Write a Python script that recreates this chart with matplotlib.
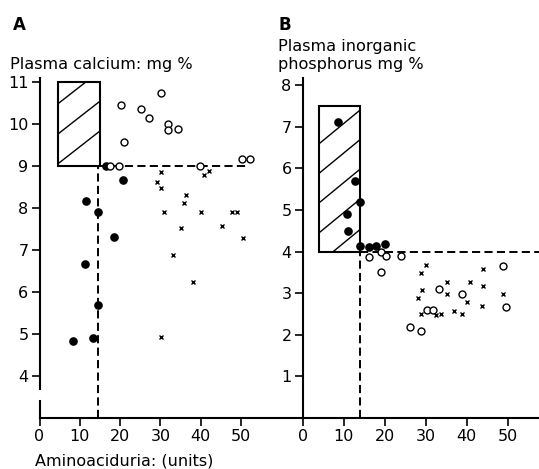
import matplotlib
matplotlib.use("Agg")
import matplotlib.pyplot as plt
from matplotlib.patches import Rectangle

# Panel A : plasma calcium (mg %) against aminoaciduria (units)
CaFilledX = [8.4, 11.3, 11.5, 13.2, 14.4, 14.6, 16.5, 18.5, 20.6]
CaFilledY = [4.83, 6.68, 8.16, 4.90, 5.69, 7.90, 9.00, 7.32, 8.67]
CaOpenX = [17.5, 19.7, 20.1, 21.0, 25.2, 27.2, 30.1, 32.0, 32.0, 34.4, 39.8, 50.2, 52.2]
CaOpenY = [9.00, 9.00, 10.46, 9.58, 10.37, 10.14, 10.75, 10.00, 9.86, 9.88, 9.00, 9.18, 9.18]
CaCrossX = [29.1, 30.1, 30.1, 30.1, 31.0, 33.1, 35.1, 35.9, 36.3, 38.0, 40.1, 40.8, 42.1,
            45.2, 47.8, 48.9, 50.6]
CaCrossY = [8.63, 8.86, 8.49, 4.94, 7.91, 6.89, 7.52, 8.12, 8.31, 6.23, 7.91, 8.79, 8.88,
            7.58, 7.90, 7.90, 7.30]

# Panel B : plasma inorganic phosphorus (mg %) against aminoaciduria (units)
PFilledX = [8.5, 10.9, 11.0, 12.8, 14.0, 14.0, 16.1, 17.9, 20.1]
PFilledY = [7.11, 4.91, 4.50, 5.69, 5.19, 4.13, 4.12, 4.14, 4.18]
POpenX = [16.1, 19.1, 20.3, 23.9, 19.1, 26.2, 28.8, 30.2, 31.9, 33.3, 38.9, 48.9, 49.7]
POpenY = [3.88, 4.00, 3.90, 3.89, 3.50, 2.18, 2.08, 2.60, 2.60, 3.09, 2.98, 3.65, 2.66]
PCrossX = [30.0, 28.9, 29.0, 28.2, 28.8, 32.4, 33.7, 35.1, 35.1, 37.0, 38.9, 40.8, 40.0,
           43.9, 44.0, 43.8, 48.9]
PCrossY = [3.68, 3.49, 3.08, 2.89, 2.50, 2.48, 2.50, 3.26, 2.97, 2.56, 2.50, 3.26, 2.78,
           3.58, 3.17, 2.68, 2.98]

# normal ranges (hatched boxes) and the cut-off lines
CaBox = (4.5, 15.0, 9.0, 11.0)      # x0, x1, y0, y1
PBox = (4.0, 14.0, 4.0, 7.5)
CaCutX, CaCutY, CaLineEnd = 14.5, 9.0, 51.7
PCutX, PCutY, PLineEnd = 14.0, 4.0, 57.6
CaHatch = [9.05, 9.76, 10.48]
PHatch = [3.72, 4.45, 5.17, 5.88, 6.59]

W, H = 539, 469
fig = plt.figure(figsize=(W / 100, H / 100), dpi=100)
plt.rcParams['font.family'] = ['DejaVu Sans']

axA = fig.add_axes([39.5 / W, 51 / H, (302.7 - 39.5) / W, 340 / H])
axB = fig.add_axes([302.7 / W, 51 / H, (W - 302.7) / W, 340 / H])
axA.set_xlim(0, (302.7 - 39.5) / 4.03)
axA.set_ylim(3, 11.1)
axB.set_xlim(0, (W - 302.7) / 4.1)
axB.set_ylim(0, 8.17)


def hatched_box(ax, box, hatch, slope):
    x0, x1, y0, y1 = box
    rect = Rectangle((x0, y0), x1 - x0, y1 - y0, fill=False, lw=1.5, ec='black', zorder=3)
    ax.add_patch(rect)
    for c in hatch:
        ln, = ax.plot([x0, x1], [c, c + slope * (x1 - x0)], color='black', lw=1.0, zorder=2)
        ln.set_clip_path(rect)


def markers(ax, fx, fy, ox, oy, cx, cy):
    ax.plot(fx, fy, 'o', color='black', ms=5.2, zorder=5)
    ax.plot(ox, oy, 'o', mfc='white', mec='black', mew=1.0, ms=5.0, zorder=5)
    ax.plot(cx, cy, 'x', color='black', ms=3.4, mew=1.0, zorder=5)


dash = (0, (4.2, 2.2))
hatched_box(axA, CaBox, CaHatch, 0.075)
axA.plot([CaBox[1], CaLineEnd], [CaCutY, CaCutY], color='black', lw=1.4, ls=dash)
axA.plot([CaCutX, CaCutX], [3, CaCutY], color='black', lw=1.4, ls=dash)
markers(axA, CaFilledX, CaFilledY, CaOpenX, CaOpenY, CaCrossX, CaCrossY)

hatched_box(axB, PBox, PHatch, 0.081)
axB.plot([PBox[1], PLineEnd], [PCutY, PCutY], color='black', lw=1.4, ls=dash, clip_on=False)
axB.plot([PCutX, PCutX], [0, PCutY], color='black', lw=1.4, ls=dash)
markers(axB, PFilledX, PFilledY, POpenX, POpenY, PCrossX, PCrossY)

for ax in (axA, axB):
    for s in ('top', 'right'):
        ax.spines[s].set_visible(False)
    ax.spines['bottom'].set_linewidth(1.5)
    ax.spines['left'].set_linewidth(1.5)
    ax.tick_params(direction='out', length=6, width=1.2, labelsize=11.5, pad=2)
    ax.set_xticks([0, 10, 20, 30, 40, 50])
    ax.patch.set_visible(False)

# the calcium axis is broken just above its foot
axA.spines['left'].set_visible(False)
axA.plot([0, 0], [3, 3.41], color='black', lw=1.5, clip_on=False)
axA.plot([0, 0], [3.69, 11.1], color='black', lw=1.5, clip_on=False)
axA.set_yticks(range(4, 12))
axB.set_yticks(range(1, 9))

fig.text(13 / W, 1 - 30 / H, 'A', fontsize=12, fontweight='bold')
fig.text(10 / W, 1 - 68.5 / H, 'Plasma calcium: mg %', fontsize=11.6)
fig.text(278 / W, 1 - 51 / H, 'Plasma inorganic', fontsize=11.6)
fig.text(278 / W, 1 - 30 / H, 'B', fontsize=12, fontweight='bold')
fig.text(278 / W, 1 - 69.5 / H, 'phosphorus mg %', fontsize=11.6)
fig.text(35 / W, 1 - 465 / H, 'Aminoaciduria: (units)', fontsize=11.5)

fig.savefig('out.png', dpi=100)
